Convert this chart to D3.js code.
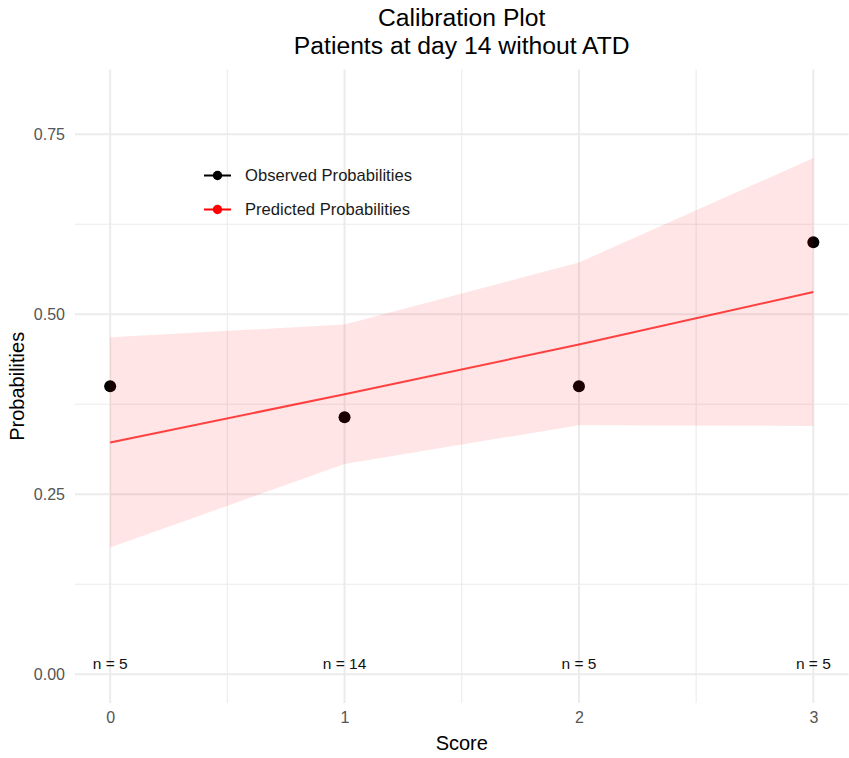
<!DOCTYPE html>
<html>
<head>
<meta charset="utf-8">
<script src="https://cdn.jsdelivr.net/npm/d3@7"></script>
<style>
  body { margin: 0; background: #fff; }
  svg { display: block; font-family: "Liberation Sans", Arial, Helvetica, sans-serif; }
</style>
</head>
<body>
<svg id="chart" width="849" height="758"></svg>
<script>
// ---- data ----
const scores = [0, 1, 2, 3];
const observed = [0.40, 0.357, 0.40, 0.60];
const predicted = [0.322, 0.389, 0.458, 0.531];
const lowerCI = [0.176, 0.292, 0.346, 0.345];
const upperCI = [0.468, 0.486, 0.572, 0.717];
const nLabels = ["n = 5", "n = 14", "n = 5", "n = 5"];
const xTicks = [0, 1, 2, 3];
const xMinor = [0.5, 1.5, 2.5];
const yTicks = [0, 0.25, 0.5, 0.75];
const yMinor = [0.125, 0.375, 0.625];
const legendLabels = ["Observed Probabilities", "Predicted Probabilities"];
const titleLines = ["Calibration Plot", "Patients at day 14 without ATD"];

// ---- layout ----
const svg = d3.select("#chart");
const panel = { left: 75, right: 848.5, top: 69.5, bottom: 703.1 };
const x = d3.scaleLinear().domain([-0.15, 3.15]).range([panel.left, panel.right]);
const y = d3.scaleLinear().domain([-0.04, 0.84]).range([panel.bottom, panel.top]);

const grid = svg.append("g");
grid.selectAll(".ymin").data(yMinor).join("line")
  .attr("x1", panel.left).attr("x2", panel.right)
  .attr("y1", d => y(d)).attr("y2", d => y(d))
  .attr("stroke", "#EBEBEB").attr("stroke-width", 1.1);
grid.selectAll(".xmin").data(xMinor).join("line")
  .attr("y1", panel.top).attr("y2", panel.bottom)
  .attr("x1", d => x(d)).attr("x2", d => x(d))
  .attr("stroke", "#EBEBEB").attr("stroke-width", 1.1);
grid.selectAll(".ymaj").data(yTicks).join("line")
  .attr("x1", panel.left).attr("x2", panel.right)
  .attr("y1", d => y(d)).attr("y2", d => y(d))
  .attr("stroke", "#EBEBEB").attr("stroke-width", 2);
grid.selectAll(".xmaj").data(xTicks).join("line")
  .attr("y1", panel.top).attr("y2", panel.bottom)
  .attr("x1", d => x(d)).attr("x2", d => x(d))
  .attr("stroke", "#EBEBEB").attr("stroke-width", 2);

const rows = scores.map((s, i) => ({ s, obs: observed[i], pred: predicted[i], lo: lowerCI[i], hi: upperCI[i], n: nLabels[i] }));

// observed points (drawn beneath ribbon)
svg.append("g").selectAll("circle").data(rows).join("circle")
  .attr("cx", d => x(d.s)).attr("cy", d => y(d.obs)).attr("r", 6)
  .attr("fill", "#000");

// ribbon
const area = d3.area().x(d => x(d.s)).y0(d => y(d.lo)).y1(d => y(d.hi));
svg.append("path").datum(rows).attr("d", area)
  .attr("fill", "red").attr("fill-opacity", 0.1);

// predicted line
const line = d3.line().x(d => x(d.s)).y(d => y(d.pred));
svg.append("path").datum(rows).attr("d", line)
  .attr("fill", "none").attr("stroke", "red").attr("stroke-opacity", 0.72).attr("stroke-width", 2);

// n labels
svg.append("g").selectAll("text").data(rows).join("text")
  .attr("x", d => x(d.s)).attr("y", y(0) - 5)
  .attr("text-anchor", "middle").attr("font-size", 15.5).attr("fill", "#111")
  .text(d => d.n);

// axes
const yAxis = svg.append("g").attr("transform", `translate(${panel.left},0)`)
  .call(d3.axisLeft(y).tickValues(yTicks).tickFormat(d3.format(".2f")).tickSize(0).tickPadding(10));
yAxis.select(".domain").remove();
yAxis.selectAll("text").attr("font-size", 16).attr("fill", "#555")
  .attr("font-family", "Liberation Sans, Arial, sans-serif");

const xAxis = svg.append("g").attr("transform", `translate(0,${panel.bottom})`)
  .call(d3.axisBottom(x).tickValues(xTicks).tickFormat(d3.format("d")).tickSize(0).tickPadding(9));
xAxis.select(".domain").remove();
xAxis.selectAll("text").attr("font-size", 16).attr("fill", "#555")
  .attr("font-family", "Liberation Sans, Arial, sans-serif");

// axis titles
svg.append("text").attr("x", (panel.left + panel.right) / 2).attr("y", 750)
  .attr("text-anchor", "middle").attr("font-size", 20).attr("fill", "#000").text("Score");
svg.append("text").attr("transform", `translate(24,${(panel.top + panel.bottom) / 2}) rotate(-90)`)
  .attr("text-anchor", "middle").attr("font-size", 20).attr("fill", "#000").text("Probabilities");

// title
svg.append("g").selectAll("text").data(titleLines).join("text")
  .attr("x", (panel.left + panel.right) / 2).attr("y", (d, i) => 26 + i * 28)
  .attr("text-anchor", "middle").attr("font-size", 24.7).attr("fill", "#000")
  .text(d => d);

// legend
const legendColors = ["#000", "red"];
const lg = svg.append("g").selectAll("g").data(legendLabels).join("g")
  .attr("transform", (d, i) => `translate(204,${175.5 + i * 34})`);
lg.append("line").attr("x1", 0).attr("x2", 27).attr("y1", 0).attr("y2", 0)
  .attr("stroke", (d, i) => legendColors[i]).attr("stroke-width", 2);
lg.append("circle").attr("cx", 13.5).attr("cy", 0).attr("r", 4.7)
  .attr("fill", (d, i) => legendColors[i]);
lg.append("text").attr("x", 41).attr("y", 0).attr("dy", "0.35em")
  .attr("font-size", 16.6).attr("fill", "#1a1a1a").text(d => d);
</script>
</body>
</html>
